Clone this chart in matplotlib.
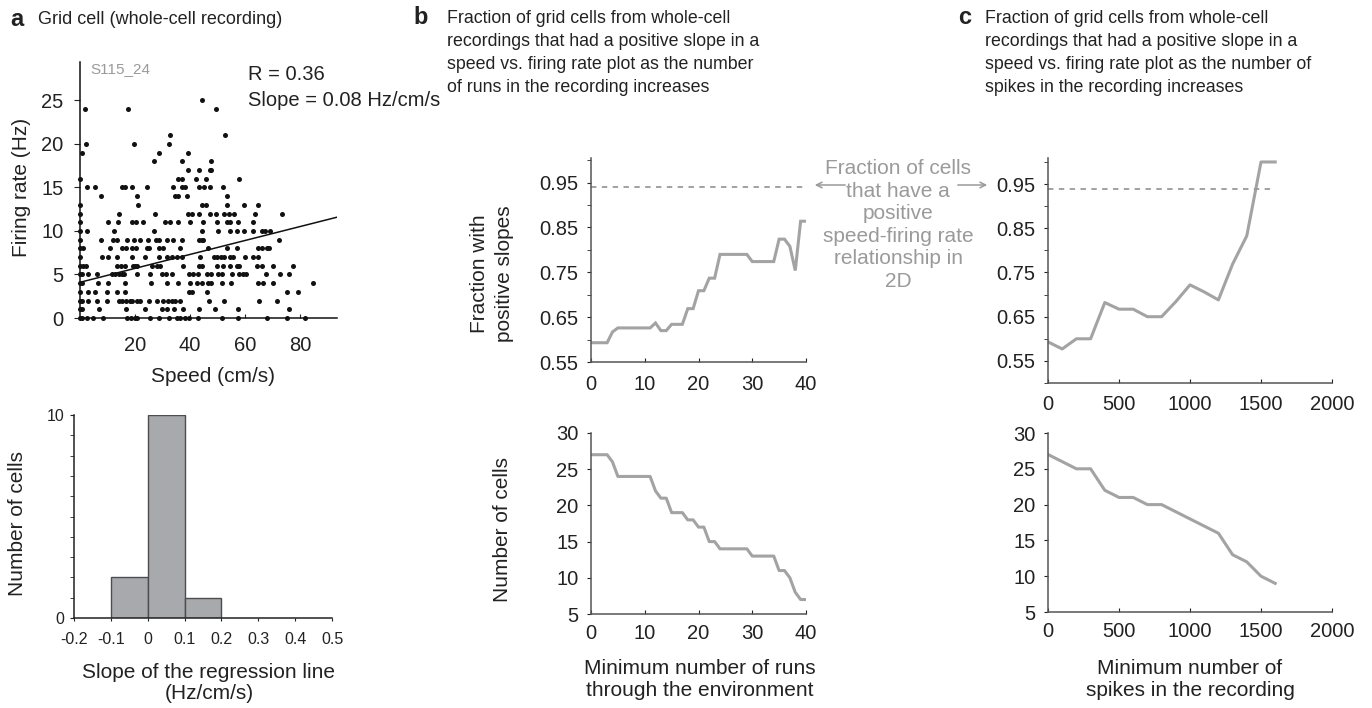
import numpy as np
import matplotlib.pyplot as plt
from matplotlib.ticker import MultipleLocator

plt.rcParams['font.family'] = ['Liberation Sans', 'DejaVu Sans']
plt.rcParams['text.color'] = '#222222'
plt.rcParams['axes.labelcolor'] = '#222222'
plt.rcParams['xtick.color'] = '#222222'
plt.rcParams['ytick.color'] = '#222222'

W, H = 1372, 708

# -----------------------------------------------------
# data
# -----------------------------------------------------
# panel a, scatter: firing rate (Hz) -> speeds (cm/s) of the samples at that rate
scatter_rows = [
    (25, [44.5]),
    (24, [1.8, 17.6, 49.5]),
    (21, [32.7, 52.8]),
    (20, [2.2, 19.6, 32.2]),
    (19, [0.7, 28.8, 39.4]),
    (18, [26.8, 37.1, 47.6]),
    (17, [39.4, 43.4, 47.3, 47.6]),
    (16, [0, 35.8, 37.1, 42.1, 45.7, 57.9]),
    (15, [2.4, 5.5, 15.4, 16.4, 18.8, 24.5, 33.9, 37.0, 38.2, 43.3, 45.1, 47.3, 52.0]),
    (14, [7.5, 20.7, 34.5, 35.8, 38.8, 53.6]),
    (13, [0, 21.1, 44.5, 45.7, 53.3, 59.8, 64.8]),
    (12, [0, 14.3, 27.3, 39.4, 40.8, 43.3, 47.3, 49.3, 52.4, 54.2, 56.0, 63.6, 73.3]),
    (11, [0, 10.3, 13.9, 18.8, 20.2, 22.8, 30.9, 32.6, 35.8, 40.0, 44.8, 49.7, 53.3,
          54.5, 57.6, 63.0]),
    (10, [0, 2.7, 12.5, 27.0, 44.2, 50.3, 54.5, 57.2, 59.8, 62.8, 66.1, 67.3, 69.1]),
    (9, [0, 7.5, 12.1, 13.3, 17.2, 19.8, 21.8, 24.8, 27.6, 28.6, 31.5, 33.9, 37.0,
         43.4, 44.2, 44.8, 72.5]),
    (8, [0, 1.2, 10.9, 15.2, 16.7, 18.8, 20.4, 24.2, 25.2, 28.8, 30.3, 36.4, 46.7,
         53.6, 57.2, 64.8, 66.1, 67.9, 68.8]),
    (7, [0, 7.9, 10.3, 13.6, 19.0, 23.6, 28.8, 31.8, 33.3, 35.2, 37.0, 43.6, 48.7,
         49.7, 51.2, 52.4, 54.5, 55.8, 60.0, 63.0, 64.8]),
    (6, [0, 1.2, 2.2, 13.6, 14.8, 16.4, 19.2, 20.0, 20.8, 26.1, 27.9, 29.1, 37.6,
         43.4, 44.2, 49.7, 51.9, 54.5, 57.0, 57.9, 64.5, 66.1, 70.1, 77.6]),
    (5, [0, 0.6, 3.0, 6.3, 11.5, 12.7, 14.2, 15.4, 16.0, 20.6, 25.5, 29.9, 31.2,
         33.3, 39.8, 41.0, 43.0, 46.3, 47.5, 50.3, 51.5, 55.2, 57.9, 59.2, 60.4,
         67.6, 72.7, 75.9]),
    (4, [0, 0.6, 6.7, 10.3, 16.4, 25.9, 31.5, 35.5, 40.0, 42.4, 44.2, 46.4, 47.8,
         51.8, 54.9, 64.8, 66.7, 70.1, 84.6]),
    (3, [0, 2.8, 5.5, 9.9, 13.3, 16.4, 39.8, 40.8, 46.1, 75.2, 79.4]),
    (2, [0, 0.6, 3.0, 6.3, 9.7, 14.2, 15.4, 16.7, 18.2, 19.0, 20.6, 21.8, 25.2,
         27.9, 30.3, 32.1, 33.3, 34.5, 36.4, 46.9, 52.4, 65.2, 71.5]),
    (1, [0, 0.6, 7.0, 16.7, 23.6, 29.7, 31.5, 34.2, 37.3, 43.3, 49.1, 57.6, 76.0]),
    (0, [0, 0.6, 2.4, 4.8, 8.5, 17.0, 18.5, 19.9, 20.8, 25.5, 28.8, 32.4, 35.2,
         36.4, 38.2, 39.6, 43.0, 51.8, 57.6, 67.9, 75.4, 81.8]),
]
fit_intercept = 4.1
fit_slope = 0.08
speed_max = 93.5

# panel a, histogram of regression slopes
slope_bin_left = [-0.1, 0.0, 0.1]
slope_bin_width = 0.1
slope_counts = [2, 10, 1]

# panel b: minimum number of runs
min_runs = list(range(41))
runs_fraction = [0.593, 0.593, 0.593, 0.593, 0.617, 0.626, 0.626, 0.626, 0.626,
                 0.626, 0.626, 0.626, 0.637, 0.620, 0.620, 0.634, 0.634, 0.634,
                 0.669, 0.669, 0.709, 0.709, 0.737, 0.737, 0.790, 0.790, 0.790,
                 0.790, 0.790, 0.790, 0.774, 0.774, 0.774, 0.774, 0.774, 0.824,
                 0.824, 0.808, 0.754, 0.864, 0.864]
runs_ncells = [27, 27, 27, 27, 26, 24, 24, 24, 24, 24, 24, 24, 22, 21, 21, 19, 19,
               19, 18, 18, 17, 17, 15, 15, 14, 14, 14, 14, 14, 14, 13, 13, 13, 13,
               13, 11, 11, 10, 8, 7, 7]

# panel c: minimum number of spikes
min_spikes = [0, 100, 200, 300, 400, 500, 600, 700, 800, 900, 1000, 1100, 1200,
              1300, 1400, 1500, 1600]
spikes_fraction = [0.593, 0.577, 0.600, 0.600, 0.682, 0.667, 0.667, 0.650, 0.650,
                   0.684, 0.722, 0.706, 0.688, 0.769, 0.833, 1.0, 1.0]
spikes_ncells = [27, 26, 25, 25, 22, 21, 21, 20, 20, 19, 18, 17, 16, 13, 12, 10, 9]

fraction_2d = 0.94

speeds = np.concatenate([np.array(s, float) for r, s in scatter_rows])
rates = np.concatenate([np.full(len(s), r, float) for r, s in scatter_rows])

LINE = '#a3a3a3'
ANNOT = '#9a9a9a'
AXC = '#555555'
TICK = 14.5


def rect(left, top, right, bottom):
    return [left / W, 1 - bottom / H, (right - left) / W, (bottom - top) / H]


def clean(ax, color=AXC, lw=1.1):
    ax.spines['top'].set_visible(False)
    ax.spines['right'].set_visible(False)
    for s in ['left', 'bottom']:
        ax.spines[s].set_color(color)
        ax.spines[s].set_linewidth(lw)
    ax.patch.set_alpha(0)


fig = plt.figure(figsize=(W / 100, H / 100), dpi=100)

# -----------------------------------------------------
# panel a - scatter
# -----------------------------------------------------
ax = fig.add_axes(rect(80, 62, 80 + speed_max * 2.75, 318))
clean(ax, '#111111')
ax.scatter(speeds, rates, s=13, color='#111111', linewidths=0, clip_on=False, zorder=3)
xs = np.array([0, speed_max])
ax.plot(xs, fit_intercept + fit_slope * xs, color='#111111', lw=1.1)
ax.set_xlim(0, speed_max)
ax.set_ylim(0, 29.4)
ax.set_xticks([20, 40, 60, 80])
ax.set_yticks([0, 5, 10, 15, 20, 25])
ax.tick_params(axis='x', direction='in', length=3, pad=13, labelsize=TICK)
ax.tick_params(axis='y', direction='out', length=4, pad=8, labelsize=TICK)
ax.text(0.04, 1.0, 'S115_24', transform=ax.transAxes, color=ANNOT, fontsize=11,
        va='top', ha='left')
fig.text(248 / W, 1 - 75 / H, 'R = 0.36', fontsize=14.5, va='center', ha='left')
fig.text(248 / W, 1 - 100 / H, 'Slope = 0.08 Hz/cm/s', fontsize=14.5, va='center',
         ha='left')
fig.text(213 / W, 1 - 377 / H, 'Speed (cm/s)', fontsize=15, ha='center', va='center')
fig.text(22 / W, 1 - 187 / H, 'Firing rate (Hz)', fontsize=15, ha='center',
         va='center', rotation=90)

# -----------------------------------------------------
# panel a - histogram
# -----------------------------------------------------
ax = fig.add_axes(rect(74, 415, 332, 618))
clean(ax, '#222222')
ax.bar(slope_bin_left, slope_counts, width=slope_bin_width, align='edge',
       color='#a7a9ac', edgecolor='#4d4d4d', linewidth=1.0)
ax.set_xlim(-0.2, 0.5)
ax.set_ylim(0, 10)
ax.set_xticks(np.arange(-2, 6) / 10)
ax.set_xticklabels(['-0.2', '-0.1', '0', '0.1', '0.2', '0.3', '0.4', '0.5'])
ax.set_yticks([0, 10])
ax.yaxis.set_minor_locator(MultipleLocator(1))
ax.tick_params(axis='x', direction='out', length=2, pad=8, labelsize=11.5)
ax.tick_params(axis='y', which='both', direction='out', length=3, pad=4, labelsize=11.5)
fig.text(209 / W, 1 - 683 / H, 'Slope of the regression line\n(Hz/cm/s)', fontsize=15,
         ha='center', va='center', linespacing=1.15)
fig.text(18 / W, 1 - 523 / H, 'Number of cells', fontsize=15, ha='center',
         va='center', rotation=90)

# -----------------------------------------------------
# panel b
# -----------------------------------------------------
ax = fig.add_axes(rect(591, 158, 806, 362))
clean(ax)
ax.plot(min_runs, runs_fraction, color=LINE, lw=2.2, solid_joinstyle='miter')
ax.hlines(fraction_2d, 0, 40, colors=ANNOT, linestyles=(0, (3, 3)), lw=1.3)
ax.set_xlim(0, 40)
ax.set_ylim(0.55, 1.005)
ax.set_xticks([0, 10, 20, 30, 40])
ax.set_yticks([0.55, 0.65, 0.75, 0.85, 0.95])
ax.yaxis.set_minor_locator(MultipleLocator(0.05))
ax.tick_params(axis='x', direction='in', length=3, pad=9, labelsize=TICK)
ax.tick_params(axis='y', which='both', direction='out', length=3, pad=6, labelsize=TICK)
fig.text(492 / W, 1 - 274 / H, 'Fraction with\npositive slopes', fontsize=15,
         ha='center', va='center', rotation=90, linespacing=1.35)

ax = fig.add_axes(rect(591, 433, 806, 614))
clean(ax)
ax.plot(min_runs, runs_ncells, color=LINE, lw=2.2)
ax.set_xlim(0, 40)
ax.set_ylim(5, 30)
ax.set_xticks([0, 10, 20, 30, 40])
ax.set_yticks([5, 10, 15, 20, 25, 30])
ax.tick_params(axis='x', direction='in', length=3, pad=7, labelsize=TICK)
ax.tick_params(axis='y', direction='out', length=3, pad=6, labelsize=TICK)
fig.text(503 / W, 1 - 529 / H, 'Number of cells', fontsize=15, ha='center',
         va='center', rotation=90)
fig.text(700 / W, 1 - 679 / H, 'Minimum number of runs\nthrough the environment',
         fontsize=15, ha='center', va='center', linespacing=1.2)

# -----------------------------------------------------
# panel c
# -----------------------------------------------------
ax = fig.add_axes(rect(1048, 158, 1332, 383))
clean(ax)
ax.plot(min_spikes, spikes_fraction, color=LINE, lw=2.2)
ax.hlines(fraction_2d, 0, 1600, colors=ANNOT, linestyles=(0, (3, 3)), lw=1.3)
ax.set_xlim(0, 2000)
ax.set_ylim(0.5, 1.009)
ax.set_xticks([0, 500, 1000, 1500, 2000])
ax.set_yticks([0.55, 0.65, 0.75, 0.85, 0.95])
ax.yaxis.set_minor_locator(MultipleLocator(0.05))
ax.tick_params(axis='x', direction='in', length=3, pad=9, labelsize=TICK)
ax.tick_params(axis='y', which='both', direction='out', length=3, pad=6, labelsize=TICK)

ax = fig.add_axes(rect(1048, 433, 1332, 612))
clean(ax)
ax.plot(min_spikes, spikes_ncells, color=LINE, lw=2.2)
ax.set_xlim(0, 2000)
ax.set_ylim(5, 30)
ax.set_xticks([0, 500, 1000, 1500, 2000])
ax.set_yticks([5, 10, 15, 20, 25, 30])
ax.tick_params(axis='x', direction='in', length=3, pad=7, labelsize=TICK)
ax.tick_params(axis='y', direction='out', length=3, pad=6, labelsize=TICK)
fig.text(1190 / W, 1 - 679 / H, 'Minimum number of\nspikes in the recording',
         fontsize=15, ha='center', va='center', linespacing=1.2)

# -----------------------------------------------------
# middle annotation with arrows
# -----------------------------------------------------
fig.text(898 / W, 1 - 225 / H,
         'Fraction of cells\nthat have a\npositive\nspeed-firing rate\nrelationship in\n2D',
         fontsize=15, color=ANNOT, ha='center', va='center', linespacing=1.24)
fig.add_artist(plt.Annotation('', xy=(812 / W, 1 - 185 / H), xytext=(848 / W, 1 - 185 / H),
                              xycoords='figure fraction',
                              arrowprops=dict(arrowstyle='->', color=ANNOT, lw=1.1)))
fig.add_artist(plt.Annotation('', xy=(990 / W, 1 - 185 / H), xytext=(955 / W, 1 - 185 / H),
                              xycoords='figure fraction',
                              arrowprops=dict(arrowstyle='->', color=ANNOT, lw=1.1)))

# -----------------------------------------------------
# panel titles
# -----------------------------------------------------
fig.text(10 / W, 1 - 20 / H, 'a', fontsize=17, fontweight='bold', va='center')
fig.text(38 / W, 1 - 20 / H, 'Grid cell (whole-cell recording)', fontsize=13, va='center')
fig.text(413 / W, 1 - 18 / H, 'b', fontsize=17, fontweight='bold', va='center')
fig.text(447 / W, 1 - 10 / H,
         'Fraction of grid cells from whole-cell\nrecordings that had a positive slope in a\n'
         'speed vs. firing rate plot as the number\nof runs in the recording increases',
         fontsize=12.8, va='top', linespacing=1.46)
fig.text(958 / W, 1 - 18 / H, 'c', fontsize=17, fontweight='bold', va='center')
fig.text(985 / W, 1 - 10 / H,
         'Fraction of grid cells from whole-cell\nrecordings that had a positive slope in a\n'
         'speed vs. firing rate plot as the number of\nspikes in the recording increases',
         fontsize=12.8, va='top', linespacing=1.46)

fig.savefig('out.png', dpi=100)
